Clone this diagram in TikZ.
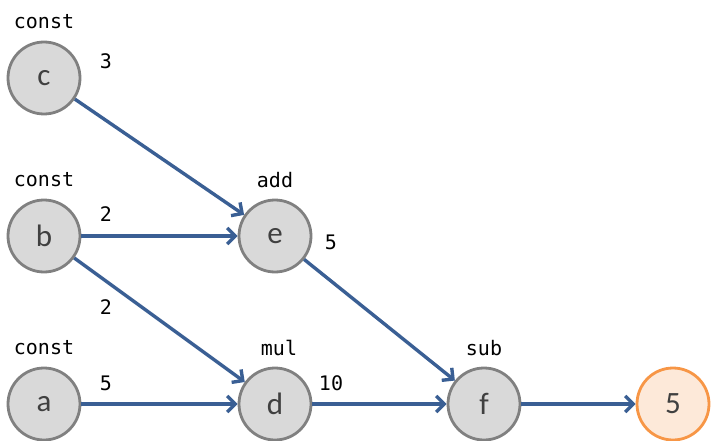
\documentclass[tikz,border=0pt]{standalone}
\usepackage{fontspec}
\setmainfont{Carlito}
\setmonofont{DejaVu Sans Mono}
\usetikzlibrary{arrows.meta}
\definecolor{opgray}{HTML}{D9D9D9}
\definecolor{oprim}{HTML}{808080}
\definecolor{resfill}{HTML}{FDE9D9}
\definecolor{resrim}{HTML}{F79646}
\definecolor{flow}{HTML}{3A5F94}
\begin{document}
\begin{tikzpicture}[x=1pt,y=-1pt,
  op/.style={circle,draw=oprim,fill=opgray,line width=2.8pt,minimum size=72pt,inner sep=0pt,
    font=\fontsize{31}{31}\selectfont,text=black!75},
  res/.style={op,draw=resrim,fill=resfill},
  tag/.style={font=\ttfamily\fontsize{20}{20}\selectfont},
  edge/.style={draw=flow,line width=3.4pt,-{Straight Barb[length=8pt,width=16pt]}}]
\useasboundingbox (0,0) rectangle (712,441);
\node[op] (c) at (44,78) {c};
\node[op] (b) at (44,236) {b};
\node[op] (a) at (44,404) {a};
\node[op] (e) at (275,236) {e};
\node[op] (d) at (275,404) {d};
\node[op] (f) at (484,404) {f};
\node[res] (r) at (673,404) {5};
\node[tag] (tc) at (44,22) {const};
\node[tag] (tb) at (44,180) {const};
\node[tag] (ta) at (44,348) {const};
\node[tag] (te) at (275,180) {add};
\node[tag] (td) at (279,348) {mul};
\node[tag] (tf) at (484,348) {sub};
\draw[edge] (c) -- (e);
\draw[edge] (b) -- (e);
\draw[edge] (b) -- (d);
\draw[edge] (a) -- (d);
\draw[edge] (e) -- (f);
\draw[edge] (d) -- (f);
\draw[edge] (f) -- (r);
\node[tag] (vc) at (106,61) {3};
\node[tag] (vbe) at (106,214) {2};
\node[tag] (vbd) at (106,307) {2};
\node[tag] (va) at (106,383) {5};
\node[tag] (ve) at (331,242) {5};
\node[tag] (vd) at (331,383) {10};
\end{tikzpicture}
\end{document}
